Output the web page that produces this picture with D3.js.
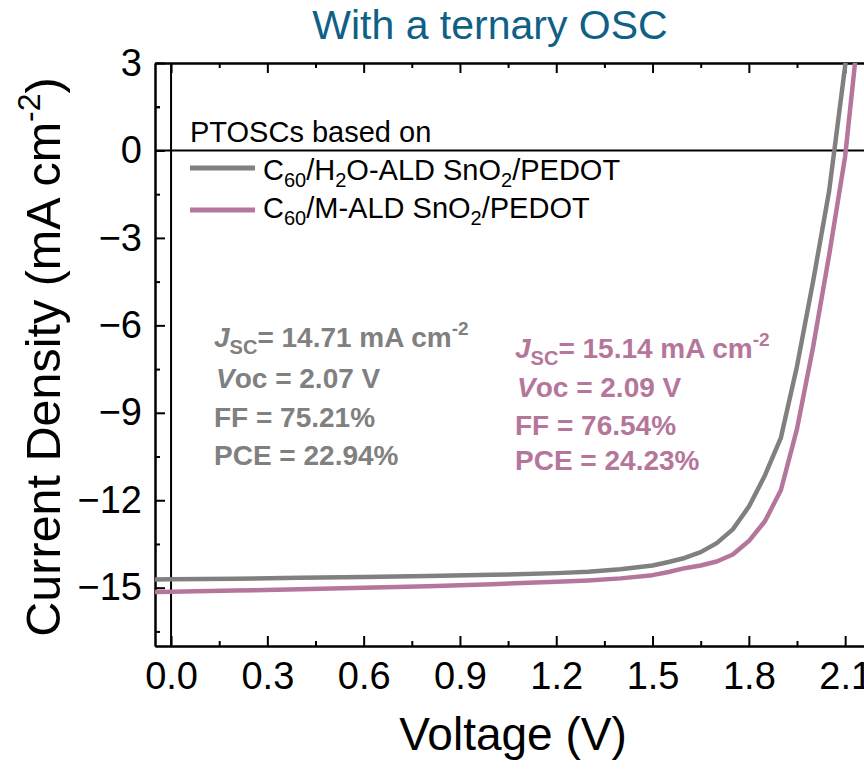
<!DOCTYPE html>
<html>
<head>
<meta charset="utf-8">
<script src="https://cdn.jsdelivr.net/npm/d3@7"></script>
<style>
  body { margin: 0; background: #fff; }
  svg { display: block; font-family: "Liberation Sans", Arial, sans-serif; }
</style>
</head>
<body>
<div id="chart"></div>
<script>
// J-V curves
const voltage = [-0.05, 0, 0.2, 0.4, 0.6, 0.8, 1.0, 1.2, 1.3, 1.4, 1.5, 1.55, 1.6, 1.65, 1.7, 1.75, 1.8, 1.85, 1.9, 1.95, 2.0, 2.05, 2.1, 2.15];
const jH2O = [-14.72, -14.71, -14.69, -14.66, -14.63, -14.60, -14.56, -14.50, -14.45, -14.37, -14.24, -14.12, -13.98, -13.78, -13.47, -13.0, -12.22, -11.15, -9.85, -7.4, -4.5, -1.4, 2.9, 8.0];
const jM = [-15.15, -15.14, -15.10, -15.05, -15.00, -14.95, -14.88, -14.80, -14.75, -14.68, -14.57, -14.46, -14.33, -14.24, -14.1, -13.86, -13.4, -12.72, -11.65, -9.55, -6.75, -3.6, -0.2, 5.0];

const xTicks = [0, 0.3, 0.6, 0.9, 1.2, 1.5, 1.8, 2.1];
const yTicks = [3, 0, -3, -6, -9, -12, -15];

const grey = "#808080";
const pink = "#b5769b";

const width = 864, height = 772;
const plotLeft = 155, plotTop = 63, plotBottom = 646;

const x = d3.scaleLinear().domain([-0.05, 2.2]).range([plotLeft, plotLeft + 2.25 * 321]);
const y = d3.scaleLinear().domain([-17, 3]).range([plotBottom, plotTop]);

const svg = d3.select("#chart").append("svg")
  .attr("width", width)
  .attr("height", height);

svg.append("defs").append("clipPath").attr("id", "plot")
  .append("rect")
  .attr("x", plotLeft).attr("y", plotTop)
  .attr("width", x.range()[1] - plotLeft).attr("height", plotBottom - plotTop);

// minor ticks sit halfway between the labelled ones
const xMinor = xTicks.map(d => d + 0.15);
const yMinor = yTicks.map(d => d - 1.5).concat([1.5]);

const styleAxis = g => {
  g.select(".domain").attr("stroke", "#000").attr("stroke-width", 2);
  g.selectAll(".tick line").attr("stroke", "#000").attr("stroke-width", 2);
  g.selectAll(".tick text").attr("font-size", 38).attr("fill", "#000")
    .attr("font-family", "Liberation Sans, Arial, sans-serif");
};

// bottom axis
svg.append("g")
  .attr("transform", `translate(0,${plotBottom})`)
  .call(d3.axisBottom(x).tickValues(xTicks).tickFormat(d3.format(".1f"))
    .tickSizeInner(-10).tickSizeOuter(0).tickPadding(16))
  .call(styleAxis);
svg.append("g")
  .attr("transform", `translate(0,${plotBottom})`)
  .call(d3.axisBottom(x).tickValues(xMinor).tickFormat("").tickSizeInner(-5).tickSizeOuter(0))
  .call(styleAxis);

// top axis
svg.append("g")
  .attr("transform", `translate(0,${plotTop})`)
  .call(d3.axisTop(x).tickValues(xTicks).tickFormat("").tickSizeInner(-10).tickSizeOuter(0))
  .call(styleAxis);
svg.append("g")
  .attr("transform", `translate(0,${plotTop})`)
  .call(d3.axisTop(x).tickValues(xMinor).tickFormat("").tickSizeInner(-5).tickSizeOuter(0))
  .call(styleAxis);

// left axis
svg.append("g")
  .attr("transform", `translate(${plotLeft},0)`)
  .call(d3.axisLeft(y).tickValues(yTicks).tickFormat(d => d < 0 ? "\u2212" + Math.abs(d) : d)
    .tickSizeInner(-10).tickSizeOuter(0).tickPadding(13))
  .call(styleAxis);
svg.append("g")
  .attr("transform", `translate(${plotLeft},0)`)
  .call(d3.axisLeft(y).tickValues(yMinor).tickFormat("").tickSizeInner(-5).tickSizeOuter(0))
  .call(styleAxis);

// zero lines
svg.append("line")
  .attr("x1", plotLeft).attr("x2", x.range()[1])
  .attr("y1", y(0)).attr("y2", y(0))
  .attr("stroke", "#000").attr("stroke-width", 2);
svg.append("line")
  .attr("x1", x(0)).attr("x2", x(0))
  .attr("y1", plotTop).attr("y2", plotBottom)
  .attr("stroke", "#000").attr("stroke-width", 2);

// curves
const line = d3.line().x(d => x(d[0])).y(d => y(d[1]));
const curves = [
  { values: jH2O, color: grey },
  { values: jM, color: pink }
];
svg.append("g").attr("clip-path", "url(#plot)")
  .selectAll("path")
  .data(curves)
  .join("path")
  .attr("d", c => line(voltage.map((v, i) => [v, c.values[i]])))
  .attr("fill", "none")
  .attr("stroke", c => c.color)
  .attr("stroke-width", 4.5)
  .attr("stroke-linejoin", "round");

// title
svg.append("text")
  .attr("x", 490).attr("y", 39)
  .attr("text-anchor", "middle")
  .attr("font-size", 41)
  .attr("fill", "#0e6086")
  .text("With a ternary OSC");

// axis titles
svg.append("text")
  .attr("x", 513).attr("y", 750)
  .attr("text-anchor", "middle")
  .attr("font-size", 46)
  .text("Voltage (V)");

const yt = svg.append("text")
  .attr("transform", "translate(60,357) rotate(-90)")
  .attr("text-anchor", "middle")
  .attr("font-size", 48.5);
yt.append("tspan").text("Current Density (mA cm");
yt.append("tspan").attr("font-size", 32).attr("dy", -20).text("-2");
yt.append("tspan").attr("dy", 20).text(")");

// legend
svg.append("text")
  .attr("x", 190).attr("y", 142)
  .attr("font-size", 29)
  .text("PTOSCs based on");

const legendRows = [
  { color: grey, y: 168, base: 180, parts: [["C", 0], ["60", 1], ["/H", 0], ["2", 1], ["O-ALD SnO", 0], ["2", 1], ["/PEDOT", 0]] },
  { color: pink, y: 210, base: 218, parts: [["C", 0], ["60", 1], ["/M-ALD SnO", 0], ["2", 1], ["/PEDOT", 0]] }
];
legendRows.forEach(r => {
  svg.append("line")
    .attr("x1", 190).attr("x2", 255)
    .attr("y1", r.y).attr("y2", r.y)
    .attr("stroke", r.color).attr("stroke-width", 5);
  const t = svg.append("text").attr("x", 263).attr("y", r.base).attr("font-size", 29);
  let shifted = false;
  r.parts.forEach(([s, sub]) => {
    const ts = t.append("tspan").text(s);
    if (sub && !shifted) { ts.attr("font-size", 20).attr("dy", 7); shifted = true; }
    else if (!sub && shifted) { ts.attr("dy", -7); shifted = false; }
  });
});

// device parameters
const statsH2O = ["14.71", "2.07", "75.21", "22.94"];
const statsM = ["15.14", "2.09", "76.54", "24.23"];

function statBlock(vals, color, x0, ys) {
  const g = svg.append("g").attr("fill", color).attr("font-weight", "bold").attr("font-size", 28);
  const t1 = g.append("text").attr("x", x0).attr("y", ys[0]);
  t1.append("tspan").attr("font-style", "italic").text("J");
  t1.append("tspan").attr("font-size", 20).attr("dy", 7).text("SC");
  t1.append("tspan").attr("dy", -7).text(`= ${vals[0]} mA cm`);
  t1.append("tspan").attr("font-size", 19).attr("dy", -12).text("-2");
  const t2 = g.append("text").attr("x", x0 + 2).attr("y", ys[1]);
  t2.append("tspan").attr("font-style", "italic").text("V");
  t2.append("tspan").text(`oc = ${vals[1]} V`);
  g.append("text").attr("x", x0).attr("y", ys[2]).text(`FF = ${vals[2]}%`);
  g.append("text").attr("x", x0).attr("y", ys[3]).text(`PCE = ${vals[3]}%`);
}
statBlock(statsH2O, grey, 214, [347, 388, 427, 465]);
statBlock(statsM, pink, 515, [358, 397, 435, 470]);
</script>
</body>
</html>
